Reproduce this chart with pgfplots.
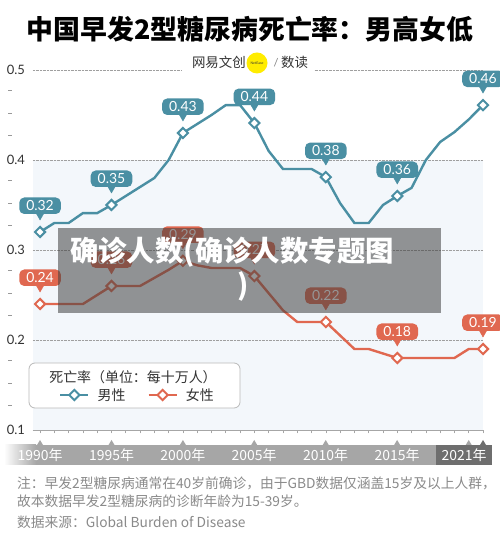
\documentclass[border=0pt]{standalone}
\usepackage{fontspec}
\usepackage{pgfplots}
\pgfplotsset{compat=1.18}
\setmainfont{Lato}
\newfontfamily\cjk{Noto Sans CJK SC}
\definecolor{mcol}{RGB}{74,143,163}
\definecolor{fcol}{RGB}{224,104,80}
\definecolor{bgblue}{RGB}{243,247,251}
\definecolor{bandgray}{RGB}{166,166,166}
\definecolor{banddark}{RGB}{110,110,110}
\definecolor{notegray}{RGB}{138,138,138}
\definecolor{txt}{RGB}{51,51,51}
\definecolor{logoyellow}{RGB}{255,236,0}
\pgfplotstableread{
x y
1990 0.32
1991 0.33
1992 0.33
1993 0.341
1994 0.341
1995 0.35
1996 0.36
1997 0.37
1998 0.38
1999 0.40
2000 0.43
2001 0.440
2002 0.450
2003 0.461
2004 0.461
2005 0.441
2006 0.41
2007 0.39
2008 0.39
2009 0.39
2010 0.381
2011 0.352
2012 0.33
2013 0.33
2014 0.35
2015 0.36
2016 0.369
2017 0.40
2018 0.42
2019 0.431
2020 0.445
2021 0.461
}\male
\pgfplotstableread{
x y
1990 0.24
1991 0.24
1992 0.24
1993 0.24
1994 0.25
1995 0.26
1996 0.26
1997 0.26
1998 0.269
1999 0.278
2000 0.288
2001 0.283
2002 0.28
2003 0.28
2004 0.28
2005 0.271
2006 0.252
2007 0.233
2008 0.22
2009 0.22
2010 0.22
2011 0.205
2012 0.19
2013 0.19
2014 0.185
2015 0.18
2016 0.18
2017 0.18
2018 0.18
2019 0.18
2020 0.19
2021 0.19
}\female
\pgfplotstableread{
x y lab
1990 0.32 0.32
1995 0.35 0.35
2000 0.43 0.43
2005 0.441 0.44
2010 0.381 0.38
2015 0.36 0.36
2021 0.461 0.46
}\malelab
\pgfplotstableread{
x y lab
1990 0.24 0.24
1995 0.26 0.26
2000 0.288 0.29
2005 0.271 0.27
2010 0.22 0.22
2015 0.18 0.18
2021 0.19 0.19
}\femalelab
\begin{document}
\begin{tikzpicture}[x=1bp,y=1bp]
\path[use as bounding box] (0,0) rectangle (500,542);
\fill[white] (0,0) rectangle (500,542);
\fill[bgblue] (32.9,112) rectangle (483,382);
\begin{axis}[
  at={(32.9bp,112bp)}, anchor=south west,
  scale only axis, width=450.1bp, height=360bp,
  xmin=1989.5, xmax=2021, ymin=0.1, ymax=0.5,
  clip=false,
  axis x line*=bottom, axis y line*=left,
  y axis line style={draw=none},
  x axis line style={draw=gray!70, line width=0.8bp},
  xtick={1990,...,2021}, xticklabels={},
  x tick style={draw=gray!70, line width=0.6bp},
  tick align=outside, major tick length=3.5bp,
  ytick={0.1,0.2,0.3,0.4,0.5},
  y tick style={draw=none},
  ymajorgrids, grid style={densely dotted, gray!75, line width=0.6bp},
  yticklabel style={font=\fontsize{13}{13}\selectfont, text=txt, xshift=-1bp,
    /pgf/number format/fixed, /pgf/number format/fixed zerofill, /pgf/number format/precision=1, /pgf/number format/assume math mode=true},
  extra y ticks={0.125,0.15,0.175,0.225,0.25,0.275,0.325,0.35,0.375,0.425,0.45,0.475},
  extra y tick style={grid=none, yticklabel={\textcolor{gray!80}{\rule[0.6ex]{3.5bp}{0.7bp}}}, yticklabel style={xshift=-13bp}},
  legend style={at={(0.0513,0.0972)}, anchor=west, draw=none, fill=none,
    font=\cjk\fontsize{14}{14}\selectfont, text=txt, legend columns=2,
    /tikz/every odd column/.append style={column sep=6bp},
    /tikz/every even column/.append style={column sep=20bp}},
  legend image code/.code={\draw[mark repeat=2,mark phase=2,#1] plot coordinates {(0bp,0bp) (14bp,0bp) (28bp,0bp)};},
]
\addlegendimage{mcol, line width=2.4bp, mark=square*, mark size=3.6bp, mark options={rotate=45, fill=white, line width=2bp}}
\addlegendimage{fcol, line width=2.4bp, mark=square*, mark size=3.6bp, mark options={rotate=45, fill=white, line width=2bp}}
\addplot[forget plot, mcol, line width=2.4bp, no marks] table {\male};
\addplot[forget plot, fcol, line width=2.4bp, no marks] table {\female};
% pointers
\addplot[forget plot, only marks, mcol, mark=triangle*, mark size=4bp, mark options={yshift=16bp, rotate=180, fill=mcol, draw=none}] table {\malelab};
\addplot[forget plot, only marks, fcol, mark=triangle*, mark size=4bp, mark options={yshift=16bp, rotate=180, fill=fcol, draw=none}] table {\femalelab};
% markers + labels
\addplot[forget plot, only marks, mcol, mark=square*, mark size=3.6bp, mark options={rotate=45, fill=white, draw=mcol, line width=2bp},
  nodes near coords, point meta=explicit symbolic,
  every node near coord/.append style={fill=mcol, text=white, rounded corners=5bp, inner xsep=7bp, inner ysep=3bp, anchor=south, yshift=17bp, font=\fontsize{14}{14}\selectfont, text height=10bp, text depth=0.5bp}]
  table[meta=lab] {\malelab};
\addplot[forget plot, only marks, fcol, mark=square*, mark size=3.6bp, mark options={rotate=45, fill=white, draw=fcol, line width=2bp},
  nodes near coords, point meta=explicit symbolic,
  every node near coord/.append style={fill=fcol, text=white, rounded corners=5bp, inner xsep=7bp, inner ysep=3bp, anchor=south, yshift=17bp, font=\fontsize{14}{14}\selectfont, text height=10bp, text depth=0.5bp}]
  table[meta=lab] {\femalelab};
% legend box
\filldraw[fill=white, draw=gray!55, line width=0.8bp, rounded corners=6bp] (axis cs:1989.227,0.12444) rectangle (axis cs:2003.994,0.17444);
\node[font=\cjk\fontsize{14}{14}\selectfont, text=txt] at (axis cs:1996.505,0.15889) {死亡率（单位：每十万人）};
\legend{男性,女性}
\end{axis}
% title
\node[font=\cjk\bfseries\fontsize{27}{27}\selectfont, text=black] at (250,513) {中国早发2型糖尿病死亡率：男高女低};
% logo
\fill[white] (182,465) rectangle (314,490);
\node[anchor=east, font=\cjk\fontsize{13.5}{13.5}\selectfont, text=txt, inner sep=0pt] at (246,480) {网易文创};
\fill[logoyellow] (257,479) circle (10.5);
\node[font=\fontsize{3.5}{3.5}\selectfont, text=txt, inner sep=0pt] at (257,479) {NetEase};
\node[font=\fontsize{11}{11}\selectfont, text=gray, inner sep=0pt] at (276,479) {/};
\node[anchor=west, font=\cjk\fontsize{13.5}{13.5}\selectfont, text=txt, inner sep=0pt] at (281,480) {数读};
% bottom band
\shade[left color=white, right color=bandgray] (4,77) rectangle (36,97);
\fill[bandgray] (35.5,77) rectangle (436,97);
\fill[banddark] (436,77) rectangle (492,97);
\foreach \xx in {40.04,111.5,182.9,254.2,325.7,397.1,468.7}
  \fill[bandgray] (\xx-3,97) -- (\xx,102) -- (\xx+3,97) -- cycle;
\fill[banddark] (480,97) -- (483,102) -- (486,97) -- cycle;
\foreach \xx/\yy in {40.04/1990,111.5/1995,182.9/2000,254.2/2005,325.7/2010,397.1/2015}
  \node[font=\cjk\fontsize{14}{14}\selectfont, text=white] at (\xx,87) {\yy 年};
\node[font=\cjk\fontsize{14}{14}\selectfont, text=white] at (464,87) {2021年};
% notes
\node[anchor=west, inner sep=0pt, font=\cjk\fontsize{13.8}{13.8}\selectfont, text=notegray] at (17,59) {注：早发2型糖尿病通常在40岁前确诊，由于GBD数据仅涵盖15岁及以上人群，};
\node[anchor=west, inner sep=0pt, font=\cjk\fontsize{13.8}{13.8}\selectfont, text=notegray] at (17,41) {故本数据早发2型糖尿病的诊断年龄为15-39岁。};
\node[anchor=west, inner sep=0pt, font=\cjk\fontsize{13.8}{13.8}\selectfont, text=notegray] at (17,20) {数据来源：Global Burden of Disease};
% overlay
\fill[black!75, opacity=0.55] (58,229) rectangle (441,314);
\node[anchor=west, inner sep=0pt, font=\cjk\bfseries\fontsize{28.5}{28.5}\selectfont, text=white] at (70,290) {确诊人数(确诊人数专题图};
\node[inner sep=0pt, font=\cjk\bfseries\fontsize{28.5}{28.5}\selectfont, text=white] at (243,256) {)};
\end{tikzpicture}
\end{document}
